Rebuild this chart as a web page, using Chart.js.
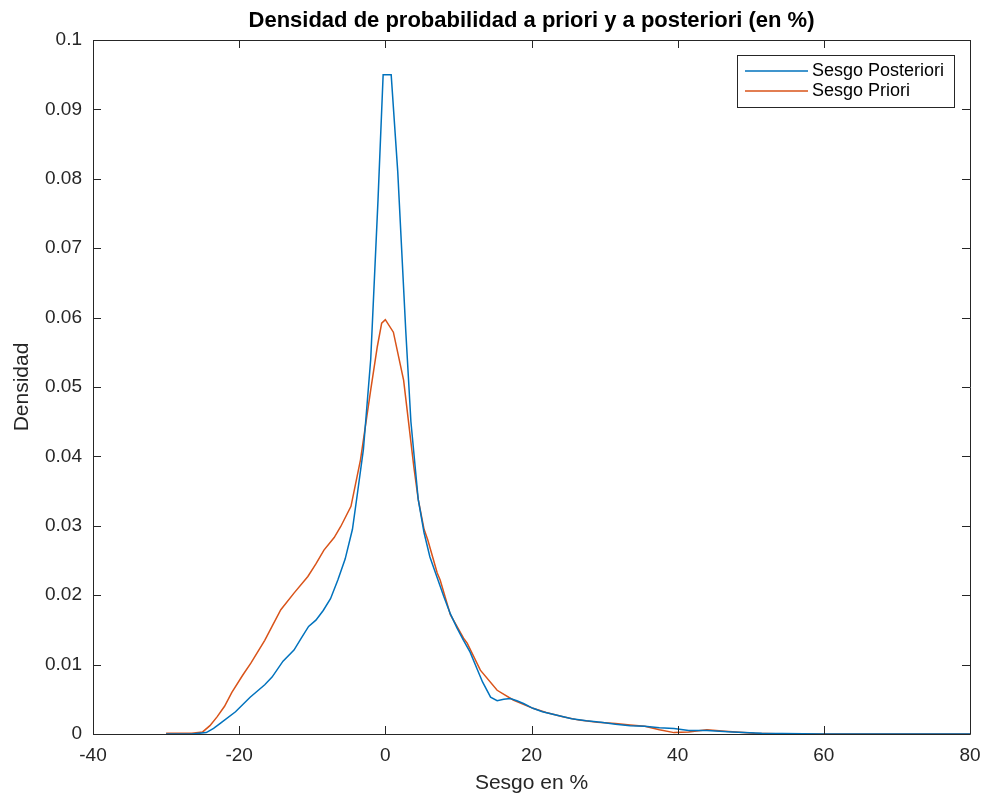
<!DOCTYPE html>
<html>
<head>
<meta charset="utf-8">
<title>Densidad de probabilidad</title>
<script src="https://cdn.jsdelivr.net/npm/chart.js@4.4.1/dist/chart.umd.min.js"></script>
<style>
    body { margin: 0; background: #fff; }
    #wrap { width: 987px; height: 799px; }
</style>
</head>
<body>
<div id="wrap"><canvas id="densityChart" width="987" height="799"></canvas></div>
<script>
// Data (kernel density, %)
const posteriorX = [-30, -26.5, -24.5, -23.5, -22.5, -20.5, -18.5, -16.5, -15.5, -14, -12.5, -11.5, -10.5, -9.5, -8.5,
    -7.5, -6.5, -5.5, -4.5, -3.8, -3.0, -2.0, -1.0, -0.3, 0.8, 1.7, 2.8, 3.5, 4.5, 5.3, 6.1, 7.1, 8, 8.9, 9.8,
    10.7, 11.6, 12.5, 13.3, 14.4, 15.3, 16.2, 17.1, 18, 18.9, 20.2, 21.5, 23.5, 25.5, 27.5, 29.5, 31.5, 33.5,
    35.5, 37.5, 39.5, 41.5, 44, 47.5, 51.5, 60, 80];
const posteriorY = [0, 0, 0.0002, 0.0008, 0.0016, 0.0032, 0.0053, 0.0071, 0.0082, 0.0105, 0.0121, 0.0138, 0.0155, 0.0164, 0.0178,
    0.0195, 0.0222, 0.0252, 0.0295, 0.0348, 0.041, 0.054, 0.077, 0.095, 0.095, 0.081, 0.058, 0.045, 0.0338, 0.029, 0.0255, 0.0225, 0.0198, 0.0173, 0.0153,
    0.0135, 0.0118, 0.0095, 0.0075, 0.0053, 0.0048, 0.005, 0.0051, 0.0048, 0.0044, 0.0037, 0.0032, 0.0027, 0.0022, 0.0019, 0.0017, 0.0014, 0.0012,
    0.0011, 0.0009, 0.0008, 0.0005, 0.0005, 0.0003, 0.0001, 0, 0];

const priorX = [-30, -28.5, -26.5, -25, -24, -23, -22, -21, -19.5, -18.4, -16.5, -15.5, -14.3, -12.5, -10.6, -9.5, -8.4,
    -7, -6.1, -4.7, -3.4, -2.0, -1.1, -0.5, 0, 1.1, 2.5, 3.9, 4.5, 5.3, 5.8, 7.1, 7.5, 8.9, 9.8, 10.7, 11.2, 13,
    15.3, 17.5, 20.2, 22, 24.3, 26.5, 29, 31.5, 33.5, 35.5, 37.5, 39.5, 41.5, 44, 46.5, 50.5, 55, 80];
const priorY = [0.0001, 0.0001, 0.0001, 0.0003, 0.0012, 0.0025, 0.004, 0.006, 0.0085, 0.0102, 0.0135, 0.0155, 0.0179, 0.0203, 0.0227, 0.0245, 0.0265,
    0.0283, 0.0299, 0.0328, 0.0395, 0.0496, 0.0558, 0.0592, 0.0597, 0.0579, 0.051, 0.0385, 0.0338, 0.0295, 0.028, 0.0232, 0.0222, 0.0172, 0.0155, 0.0138, 0.0131, 0.0092,
    0.0063, 0.0049, 0.0037, 0.0031, 0.0025, 0.002, 0.0017, 0.0015, 0.0013, 0.0011, 0.0006, 0.0002, 0.0003, 0.0006, 0.0004, 0.0001, 0, 0];

const seriesLabels = ['Sesgo Posteriori', 'Sesgo Priori'];
const seriesColors = ['#0072BD', '#D95319'];
const xTickRange = { min: -40, max: 80, step: 20 };
const yTickRange = { min: 0, max: 0.1, step: 0.01 };
const chartTitle = 'Densidad de probabilidad a priori y a posteriori (en %)';

const axisColor = '#262626';
const fontFamily = "'Liberation Sans', Arial, Helvetica, sans-serif";

Chart.defaults.font.family = fontFamily;
Chart.defaults.color = axisColor;

function toPoints(xs, ys) {
    return xs.map((x, i) => ({ x: x, y: ys[i] }));
}

// MATLAB style box: title over the axes, frame, inward ticks, legend with border
const matlabBox = {
    id: 'matlabBox',
    afterDatasetsDraw(chart) {
        const { ctx, chartArea: a, scales: { x, y } } = chart;
        const tl = 8;
        ctx.save();

        // Title centred on the axes, not the canvas
        ctx.fillStyle = '#000';
        ctx.font = 'bold 22px ' + fontFamily;
        ctx.textAlign = 'center';
        ctx.textBaseline = 'middle';
        ctx.fillText(chartTitle, (a.left + a.right) / 2, 21);

        ctx.strokeStyle = axisColor;
        ctx.lineWidth = 1;
        ctx.beginPath();
        ctx.rect(a.left + 0.5, a.top + 0.5, a.right - a.left, a.bottom - a.top);
        x.ticks.forEach(t => {
            const px = Math.round(x.getPixelForValue(t.value)) + 0.5;
            ctx.moveTo(px, a.bottom); ctx.lineTo(px, a.bottom - tl);
            ctx.moveTo(px, a.top); ctx.lineTo(px, a.top + tl);
        });
        y.ticks.forEach(t => {
            const py = Math.round(y.getPixelForValue(t.value)) + 0.5;
            ctx.moveTo(a.left, py); ctx.lineTo(a.left + tl, py);
            ctx.moveTo(a.right, py); ctx.lineTo(a.right - tl, py);
        });
        ctx.stroke();

        // Legend (top right, inside the axes)
        const boxW = 217, boxH = 52;
        const bx = a.right - 16 - boxW, by = a.top + 15;
        ctx.fillStyle = '#fff';
        ctx.fillRect(bx, by, boxW, boxH);
        ctx.strokeStyle = axisColor;
        ctx.strokeRect(bx + 0.5, by + 0.5, boxW, boxH);
        ctx.font = '18px ' + fontFamily;
        ctx.textBaseline = 'middle';
        ctx.textAlign = 'left';
        chart.data.datasets.forEach((ds, i) => {
            const ly = by + 16 + i * 20;
            ctx.strokeStyle = ds.borderColor;
            ctx.lineWidth = 1.5;
            ctx.beginPath();
            ctx.moveTo(bx + 8, ly); ctx.lineTo(bx + 71, ly);
            ctx.stroke();
            ctx.fillStyle = '#000';
            ctx.fillText(ds.label, bx + 75, ly);
        });
        ctx.restore();
    }
};

const densityCtx = document.getElementById('densityChart').getContext('2d');
const densityChart = new Chart(densityCtx, {
    type: 'line',
    data: {
        datasets: [
            {
                label: seriesLabels[0],
                data: toPoints(posteriorX, posteriorY),
                borderColor: seriesColors[0],
                borderWidth: 1.5,
                pointRadius: 0,
                tension: 0,
                fill: false
            },
            {
                label: seriesLabels[1],
                data: toPoints(priorX, priorY),
                borderColor: seriesColors[1],
                borderWidth: 1.5,
                pointRadius: 0,
                tension: 0,
                fill: false
            }
        ]
    },
    options: {
        responsive: false,
        animation: false,
        layout: { padding: { left: 0, right: 17, top: 40, bottom: 0 } },
        plugins: {
            legend: { display: false },
            tooltip: { enabled: false },
            title: { display: false }
        },
        scales: {
            x: {
                type: 'linear',
                min: xTickRange.min,
                max: xTickRange.max,
                grid: { display: false, drawTicks: false },
                border: { display: false },
                ticks: { stepSize: xTickRange.step, padding: 10, font: { size: 19 }, maxRotation: 0 },
                title: { display: true, text: 'Sesgo en %', font: { size: 21 }, padding: { top: 0, bottom: 3 } },
                afterFit: function(scale) {
                    scale.height = 65;
                    scale.paddingLeft = 0;
                    scale.paddingRight = 0;
                }
            },
            y: {
                type: 'linear',
                min: yTickRange.min,
                max: yTickRange.max,
                grid: { display: false, drawTicks: false },
                border: { display: false },
                ticks: {
                    stepSize: yTickRange.step,
                    padding: 11,
                    font: { size: 19 },
                    callback: function(value) {
                        return parseFloat(value.toFixed(2)).toString();
                    }
                },
                title: { display: true, text: 'Densidad', font: { size: 21 }, padding: { top: 10, bottom: 0 } },
                afterFit: function(scale) {
                    scale.width = 93;
                    scale.paddingTop = 0;
                    scale.paddingBottom = 0;
                }
            }
        }
    },
    plugins: [matlabBox]
});
</script>
</body>
</html>
